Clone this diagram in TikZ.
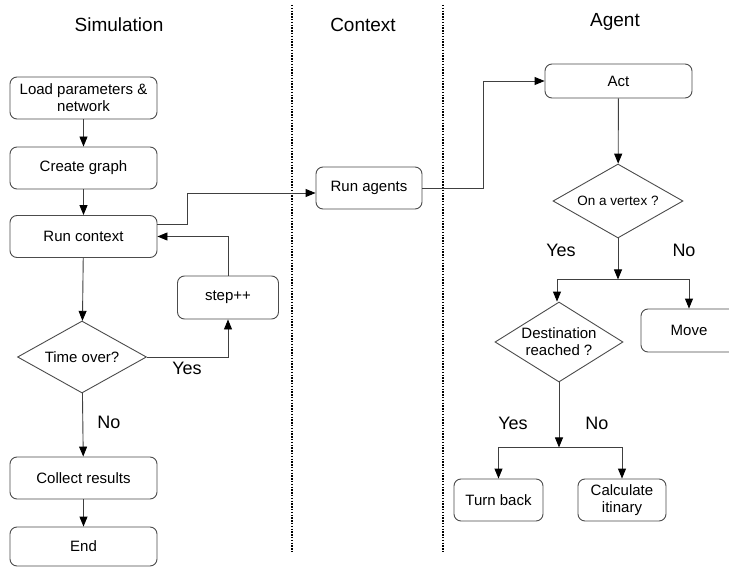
\documentclass[tikz,border=0pt]{standalone}
\usepackage{fontspec}
\setmainfont{Liberation Sans}
\usetikzlibrary{shapes.geometric,arrows.meta}
\tikzset{
  box/.style={draw=black!70, line width=0.9pt, rounded corners=7pt, minimum width=147pt,
    minimum height=42pt, align=center, inner sep=2pt,
    font=\fontsize{15}{17}\selectfont},
  test/.style={draw=black!70, line width=0.9pt, diamond, inner sep=0pt, align=center,
    font=\fontsize{15}{17}\selectfont},
  lane/.style={line width=1.3pt, dash pattern=on 1.4pt off 1.4pt},
  title/.style={font=\fontsize{19}{22}\selectfont},
  answer/.style={font=\fontsize{18}{20}\selectfont},
  arr/.style={draw=black!75, line width=0.9pt, -{Triangle[length=10pt,width=8pt,black]}}
}
\begin{document}
\begin{tikzpicture}[x=1pt,y=-1pt]
      \clip (0,0) rectangle (729,567);
      \fill[white] (0,0) rectangle (729,567);
      \draw[lane] (292,5) -- (292,553);
      \draw[lane] (443,5) -- (443,553);
      \draw
        (119,25) node[title] (simtitle){Simulation}
        (363,25) node[title] (ctxtitle){Context}
        (615,22) node[title] (agtitle){Agent};
      % simulation
      \draw
        (83.5,98) node[box] (load){Load parameters \&\\network}
        (83.5,168) node[box] (graph){Create graph}
        (83.5,236.5) node[box] (runctx){Run context}
        (82,357) node[test, aspect=1.8, minimum width=129pt, minimum height=72pt] (timeover){Time over?}
        (228,297.5) node[box, minimum width=101pt, minimum height=43pt] (step){step++}
        (83.5,478) node[box] (collect){Collect results}
        (83.5,546.5) node[box, minimum height=39pt] (end){End};
      % context
      \draw
        (369,188) node[box, minimum width=106pt] (runagents){Run agents};
      % agent
      \draw
        (618.5,81) node[box, minimum height=34pt] (act){Act}
        (618,201) node[test, aspect=1.75, minimum width=130pt, minimum height=74pt,
          font=\fontsize{13.5}{15}\selectfont] (vertex){On a vertex ?}
        (689,330.5) node[box, minimum width=96pt, minimum height=43pt] (move){Move}
        (559,342) node[test, aspect=1.6, minimum width=128pt, minimum height=80pt] (dest){Destination\\reached ?}
        (498.5,500) node[box, minimum width=89pt] (turn){Turn back}
        (622,500) node[box, minimum width=88pt] (calc){Calculate\\itinary};
      \begin{scope}[arr]
        \draw (load) -- (graph);
        \draw (graph) -- (runctx);
        \draw (runctx) -- (timeover);
        \draw (timeover) -- (collect);
        \draw (collect) -- (end);
        \draw (timeover.east) -| (step.south);
        \draw (step.north) |- (runctx.east);
        \draw ([yshift=12pt]runctx.east) -- ++(30,0) |- ([yshift=-5pt]runagents.west);
        \draw (runagents.east) -- ++(61,0) |- (act.west);
        \draw (act) -- (vertex);
        \draw (vertex.south) -- ++(0,41) coordinate (vsplit);
        \draw (vsplit) -| ([xshift=-2pt]dest.north);
        \draw (vsplit) -| (move.north);
        \draw (dest.south) -- ++(0,65) coordinate (dsplit);
        \draw (dsplit) -| (turn.north);
        \draw (dsplit) -| (calc.north);
      \end{scope}
      \draw
        (187,368) node[answer] (yes1){Yes}
        (109,422) node[answer] (no1){No}
        (561,250) node[answer] (yes2){Yes}
        (684,250) node[answer] (no2){No}
        (513,423) node[answer] (yes3){Yes}
        (597,423) node[answer] (no3){No};
    \end{tikzpicture}
\end{document}
